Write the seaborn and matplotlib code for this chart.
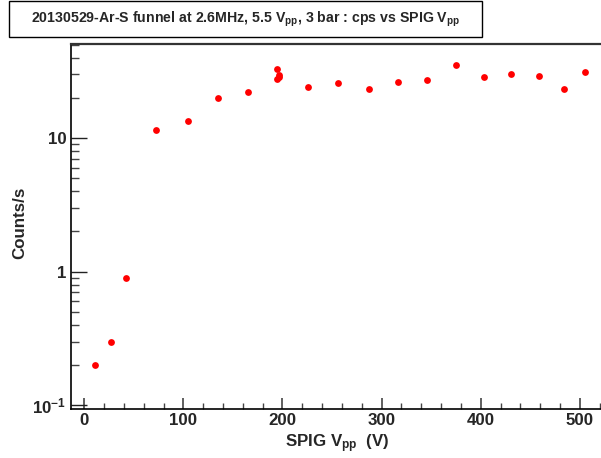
import matplotlib
matplotlib.use("Agg")
import matplotlib.pyplot as plt
import matplotlib.ticker as mticker
from matplotlib.patches import Rectangle
import seaborn as sns
import pandas as pd
import numpy as np

# Data
spig_vpp = [10.5, 27, 42, 72, 105, 135, 165, 194, 196.5, 194, 196.5,
            226, 256, 287, 317, 346, 375, 403, 431, 458.5, 484, 505]
counts_per_s = [0.2, 0.3, 0.9, 11.4, 13.4, 20.0, 22.2, 33.0, 29.4, 27.5, 28.4,
                24.2, 25.9, 23.1, 26.1, 27.0, 35.0, 28.7, 30.1, 29.2, 23.4, 31.2]
x_ticks = [0, 100, 200, 300, 400, 500]
y_ticks = [0.1, 1, 10]
y_ticklabels = [r"$\mathbf{10^{-1}}$", "1", "10"]

df = pd.DataFrame({"SPIG Vpp": spig_vpp, "Counts/s": counts_per_s})

sns.set_style("ticks")
plt.rcParams["font.family"] = ["Liberation Sans", "DejaVu Sans"]
plt.rcParams["font.weight"] = "bold"
plt.rcParams["mathtext.fontset"] = "custom"
plt.rcParams["mathtext.rm"] = "Liberation Sans:bold"
plt.rcParams["mathtext.bf"] = "Liberation Sans:bold"
plt.rcParams["mathtext.it"] = "Liberation Sans:bold"
plt.rcParams["mathtext.default"] = "bf"

fig = plt.figure(figsize=(6.01, 4.58), dpi=100)
W, H = 601.0, 458.0
left, right, top, bottom = 70.5, 603.0, 44.0, 409.3
ax = fig.add_axes([left / W, (H - bottom) / H, (right - left) / W, (bottom - top) / H])

sns.scatterplot(data=df, x="SPIG Vpp", y="Counts/s", ax=ax, color="#ff0000",
                s=24, linewidth=0, legend=False, zorder=3)

ax.set_yscale("log")
ax.set_xlim(-13.9, 523.4)
ax.set_ylim(0.0935, 50.5)

ax.set_xticks(x_ticks)
ax.set_xticklabels([str(v) for v in x_ticks], fontsize=12.2, fontweight="bold")
ax.xaxis.set_minor_locator(mticker.MultipleLocator(20))
ax.set_yticks(y_ticks)
ax.set_yticklabels(y_ticklabels, fontsize=12.2, fontweight="bold")
ax.yaxis.set_minor_locator(mticker.LogLocator(base=10, subs=np.arange(2, 10)))
ax.yaxis.set_minor_formatter(mticker.NullFormatter())

ax.tick_params(axis="x", which="major", direction="in", length=8, width=1.2, color="#444444", pad=3)
ax.tick_params(axis="x", which="minor", direction="in", length=4, width=1.0, color="#444444")
ax.tick_params(axis="y", which="major", direction="in", length=11.5, width=1.0, color="#222222", pad=3)
ax.tick_params(axis="y", which="minor", direction="in", length=5.5, width=1.0, color="#444444")
ax.tick_params(top=False, right=False, which="both")

for s in ["left", "bottom"]:
    ax.spines[s].set_linewidth(1.2)
    ax.spines[s].set_color("black")
ax.spines["top"].set_linewidth(1.6)
ax.spines["top"].set_color("#333333")
ax.spines["right"].set_visible(False)

ax.set_xlabel(r"SPIG V$_{pp}$  (V)", fontsize=12.2, fontweight="bold", labelpad=3)
ax.set_ylabel("Counts/s", fontsize=12.2, fontweight="bold")
ax.yaxis.set_label_coords(-0.081, 0.51)

# Title box
bx0, bx1, by0, by1 = 9.3, 481.7, 1.0, 36.5
rect = Rectangle((bx0 / W, (H - by1) / H), (bx1 - bx0) / W, (by1 - by0) / H,
                 transform=fig.transFigure, facecolor="white", edgecolor="black",
                 linewidth=1.0, zorder=5)
fig.patches.append(rect)
fig.text((bx0 + bx1) / 2 / W, (H - 19.0) / H,
         r"20130529-Ar-S funnel at 2.6MHz, 5.5 V$_{pp}$, 3 bar : cps vs SPIG V$_{pp}$",
         ha="center", va="center", fontsize=10.2, fontweight="bold", zorder=6)

fig.savefig("out.png", dpi=100)
